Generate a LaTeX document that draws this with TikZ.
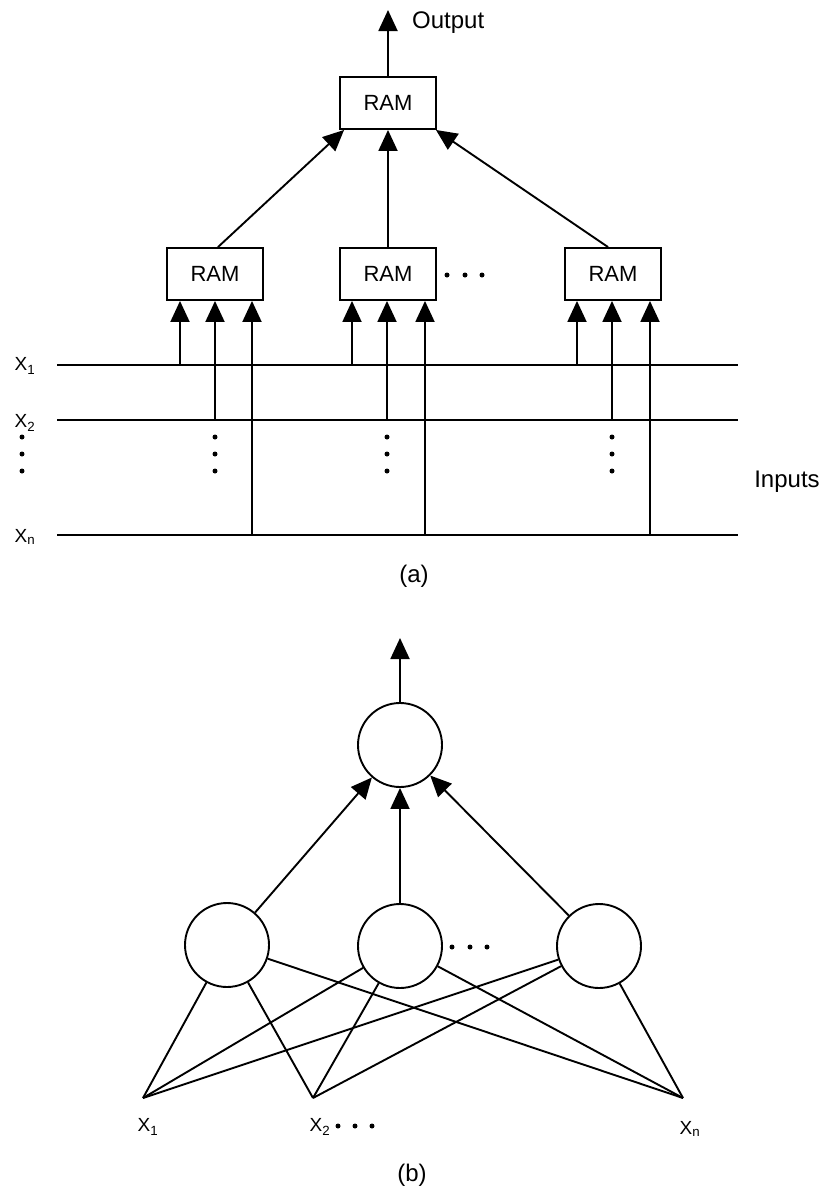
\documentclass[tikz,border=0pt]{standalone}
\usepackage{fontspec}
\setmainfont{Liberation Sans}
\usetikzlibrary{arrows.meta}
\begin{document}
\begin{tikzpicture}[x=1pt,y=-1pt,
  wire/.style={line width=1.9pt},
  arr/.style={wire,-{Triangle[length=21pt,width=19pt]}},
  ram/.style={draw,line width=1.9pt,minimum width=96pt,minimum height=52pt,inner sep=0pt,font=\fontsize{22}{22}\selectfont},
  neuron/.style={draw,circle,line width=1.9pt,minimum size=84pt,inner sep=0pt},
  lbl/.style={font=\fontsize{24}{24}\selectfont,inner sep=0pt},
  xl/.style={font=\fontsize{19}{19}\selectfont,inner sep=0pt},
  dotm/.style={fill,circle,inner sep=0pt,minimum size=5pt}
]
\useasboundingbox (0,0) rectangle (826,1192);
% ---------- (a) ----------
\node[ram] (t) at (388,103) {RAM};
\node[ram] (b1) at (215,274) {RAM};
\node[ram] (b2) at (388,274) {RAM};
\node[ram] (b3) at (613,274) {RAM};
\coordinate (out) at (388,10);
\draw[arr] (t.north) -- (out);
\node[lbl,anchor=west] (outl) at (412,23) {Output};
\draw[arr] ([xshift=3pt]b1.north) -- ([xshift=5pt]t.south west);
\draw[arr] (b2.north) -- (t.south);
\draw[arr] ([xshift=-5pt]b3.north) -- ([xshift=-1pt]t.south east);
\foreach \x in {447,465,482} \node[dotm] at (\x,275) {};
% input lines
\coordinate (x1s) at (57,365); \coordinate (x1e) at (738,365);
\coordinate (x2s) at (57,420); \coordinate (x2e) at (738,420);
\coordinate (xns) at (57,535); \coordinate (xne) at (738,535);
\draw[wire] (x1s) -- (x1e);
\draw[wire] (x2s) -- (x2e);
\draw[wire] (xns) -- (xne);
% taps
\coordinate (p1a) at (180,365); \coordinate (p1b) at (215,420); \coordinate (p1c) at (252,535);
\coordinate (p2a) at (352,365); \coordinate (p2b) at (387,420); \coordinate (p2c) at (425,535);
\coordinate (p3a) at (577,365); \coordinate (p3b) at (612,420); \coordinate (p3c) at (650,535);
\draw[arr] (p1a) -- (p1a |- b1.south);
\draw[arr] (p1b) -- (p1b |- b1.south);
\draw[arr] (p1c) -- (p1c |- b1.south);
\draw[arr] (p2a) -- (p2a |- b2.south);
\draw[arr] (p2b) -- (p2b |- b2.south);
\draw[arr] (p2c) -- (p2c |- b2.south);
\draw[arr] (p3a) -- (p3a |- b3.south);
\draw[arr] (p3b) -- (p3b |- b3.south);
\draw[arr] (p3c) -- (p3c |- b3.south);
\foreach \x in {22,215,387,612} \foreach \y in {437,454,471} \node[dotm] at (\x,\y) {};
\node[xl] (lx1) at (25,366) {X\textsubscript{1}};
\node[xl] (lx2) at (25,423) {X\textsubscript{2}};
\node[xl] (lxn) at (25,537) {X\textsubscript{n}};
\node[lbl] (inp) at (787,482) {Inputs};
\node[lbl] (capa) at (414,576) {(a)};
% ---------- (b) ----------
\node[neuron] (o) at (400,745) {};
\coordinate (bout) at (400,638);
\draw[arr] (o.north) -- (bout);
\node[neuron] (n1) at (227,945) {};
\node[neuron] (n2) at (400,946) {};
\node[neuron] (n3) at (599,946) {};
\draw[arr] (n1) -- (o);
\draw[arr] (n2) -- (o);
\draw[arr] (n3) -- (o);
\foreach \x in {452,470,487} \node[dotm] at (\x,947) {};
\coordinate (i1) at (143,1098);
\coordinate (i2) at (313,1098);
\coordinate (in) at (683,1098);
\foreach \n in {n1,n2,n3} \foreach \i in {i1,i2,in} \draw[wire] (\n) -- (\i);
\node[xl] (bx1) at (148,1127) {X\textsubscript{1}};
\node[xl] (bx2) at (320,1127) {X\textsubscript{2}};
\foreach \x in {338,355,372} \node[dotm] at (\x,1126) {};
\node[xl] (bxn) at (690,1129) {X\textsubscript{n}};
\node[lbl] (capb) at (412,1175) {(b)};
\end{tikzpicture}
\end{document}
